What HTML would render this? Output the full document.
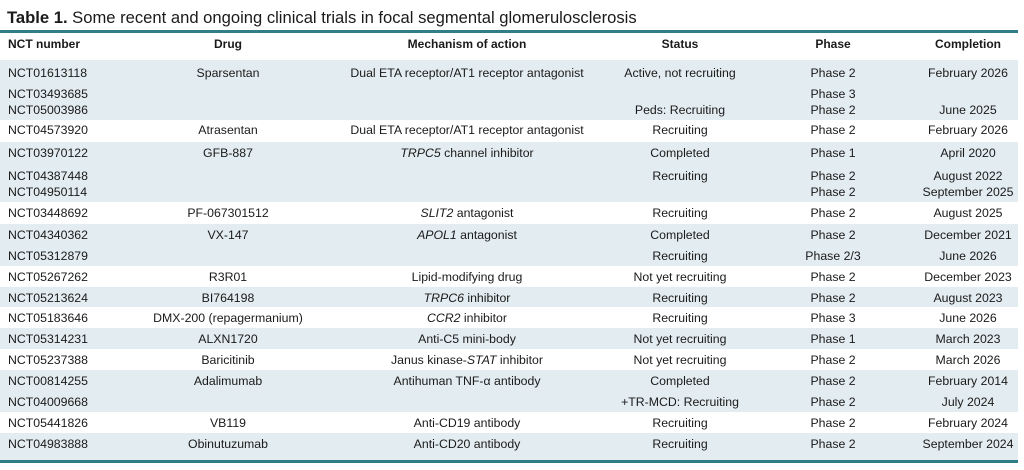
<!DOCTYPE html>
<html><head><meta charset="utf-8"><style>
body{margin:0;width:1024px;height:470px;background:#fff;position:relative;overflow:hidden;font-family:"Liberation Sans",sans-serif;color:#1a1a1a}
.b{position:absolute;left:0;width:1018px;background:#e3ecf0}
.ln{position:absolute;left:0;width:1018px;height:3px;background:#2f7d88}
.t{position:absolute;font-size:12.3px;line-height:16px;height:16px;white-space:nowrap}
.n{left:8px}
.c1{left:128px;width:200px;text-align:center}
.c2{left:317px;width:300px;text-align:center}
.c3{left:580px;width:200px;text-align:center}
.c4{left:783px;width:100px;text-align:center}
.c5{left:898px;width:140px;text-align:center}
.h{font-weight:bold;font-size:12px}
</style></head><body>
<div style="position:absolute;left:7px;top:8px;font-size:16.6px;line-height:19px;white-space:nowrap"><b>Table 1.</b> Some recent and ongoing clinical trials in focal segmental glomerulosclerosis</div>
<div class="ln" style="top:30px"></div>
<div class="b" style="top:60px;height:60px"></div>
<div class="b" style="top:142px;height:60px"></div>
<div class="b" style="top:224px;height:42px"></div>
<div class="b" style="top:287px;height:20px"></div>
<div class="b" style="top:328px;height:21px"></div>
<div class="b" style="top:370px;height:42px"></div>
<div class="b" style="top:433px;height:27px"></div>
<div class="ln" style="top:460px"></div>

<div class="t h n" style="top:36px">NCT number</div><div class="t h c1" style="top:36px">Drug</div><div class="t h c2" style="top:36px">Mechanism of action</div><div class="t h c3" style="top:36px">Status</div><div class="t h c4" style="top:36px">Phase</div><div class="t h c5" style="top:36px">Completion</div>

<div class="t n" style="top:65px">NCT01613118</div><div class="t c1" style="top:65px">Sparsentan</div><div class="t c2" style="top:65px">Dual ETA receptor/AT1 receptor antagonist</div><div class="t c3" style="top:65px">Active, not recruiting</div><div class="t c4" style="top:65px">Phase 2</div><div class="t c5" style="top:65px">February 2026</div>
<div class="t n" style="top:86px">NCT03493685</div><div class="t c4" style="top:86px">Phase 3</div>
<div class="t n" style="top:102px">NCT05003986</div><div class="t c3" style="top:102px">Peds: Recruiting</div><div class="t c4" style="top:102px">Phase 2</div><div class="t c5" style="top:102px">June 2025</div>

<div class="t n" style="top:122px">NCT04573920</div><div class="t c1" style="top:122px">Atrasentan</div><div class="t c2" style="top:122px">Dual ETA receptor/AT1 receptor antagonist</div><div class="t c3" style="top:122px">Recruiting</div><div class="t c4" style="top:122px">Phase 2</div><div class="t c5" style="top:122px">February 2026</div>

<div class="t n" style="top:145px">NCT03970122</div><div class="t c1" style="top:145px">GFB-887</div><div class="t c2" style="top:145px"><i>TRPC5</i> channel inhibitor</div><div class="t c3" style="top:145px">Completed</div><div class="t c4" style="top:145px">Phase 1</div><div class="t c5" style="top:145px">April 2020</div>
<div class="t n" style="top:168px">NCT04387448</div><div class="t c3" style="top:168px">Recruiting</div><div class="t c4" style="top:168px">Phase 2</div><div class="t c5" style="top:168px">August 2022</div>
<div class="t n" style="top:184px">NCT04950114</div><div class="t c4" style="top:184px">Phase 2</div><div class="t c5" style="top:184px">September 2025</div>

<div class="t n" style="top:205px">NCT03448692</div><div class="t c1" style="top:205px">PF-067301512</div><div class="t c2" style="top:205px"><i>SLIT2</i> antagonist</div><div class="t c3" style="top:205px">Recruiting</div><div class="t c4" style="top:205px">Phase 2</div><div class="t c5" style="top:205px">August 2025</div>

<div class="t n" style="top:227px">NCT04340362</div><div class="t c1" style="top:227px">VX-147</div><div class="t c2" style="top:227px"><i>APOL1</i> antagonist</div><div class="t c3" style="top:227px">Completed</div><div class="t c4" style="top:227px">Phase 2</div><div class="t c5" style="top:227px">December 2021</div>
<div class="t n" style="top:248px">NCT05312879</div><div class="t c3" style="top:248px">Recruiting</div><div class="t c4" style="top:248px">Phase 2/3</div><div class="t c5" style="top:248px">June 2026</div>

<div class="t n" style="top:269px">NCT05267262</div><div class="t c1" style="top:269px">R3R01</div><div class="t c2" style="top:269px">Lipid-modifying drug</div><div class="t c3" style="top:269px">Not yet recruiting</div><div class="t c4" style="top:269px">Phase 2</div><div class="t c5" style="top:269px">December 2023</div>

<div class="t n" style="top:290px">NCT05213624</div><div class="t c1" style="top:290px">BI764198</div><div class="t c2" style="top:290px"><i>TRPC6</i> inhibitor</div><div class="t c3" style="top:290px">Recruiting</div><div class="t c4" style="top:290px">Phase 2</div><div class="t c5" style="top:290px">August 2023</div>

<div class="t n" style="top:310px">NCT05183646</div><div class="t c1" style="top:310px">DMX-200 (repagermanium)</div><div class="t c2" style="top:310px"><i>CCR2</i> inhibitor</div><div class="t c3" style="top:310px">Recruiting</div><div class="t c4" style="top:310px">Phase 3</div><div class="t c5" style="top:310px">June 2026</div>

<div class="t n" style="top:331px">NCT05314231</div><div class="t c1" style="top:331px">ALXN1720</div><div class="t c2" style="top:331px">Anti-C5 mini-body</div><div class="t c3" style="top:331px">Not yet recruiting</div><div class="t c4" style="top:331px">Phase 1</div><div class="t c5" style="top:331px">March 2023</div>

<div class="t n" style="top:352px">NCT05237388</div><div class="t c1" style="top:352px">Baricitinib</div><div class="t c2" style="top:352px">Janus kinase-<i>STAT</i> inhibitor</div><div class="t c3" style="top:352px">Not yet recruiting</div><div class="t c4" style="top:352px">Phase 2</div><div class="t c5" style="top:352px">March 2026</div>

<div class="t n" style="top:373px">NCT00814255</div><div class="t c1" style="top:373px">Adalimumab</div><div class="t c2" style="top:373px">Antihuman TNF-α antibody</div><div class="t c3" style="top:373px">Completed</div><div class="t c4" style="top:373px">Phase 2</div><div class="t c5" style="top:373px">February 2014</div>
<div class="t n" style="top:394px">NCT04009668</div><div class="t c3" style="top:394px">+TR-MCD: Recruiting</div><div class="t c4" style="top:394px">Phase 2</div><div class="t c5" style="top:394px">July 2024</div>

<div class="t n" style="top:415px">NCT05441826</div><div class="t c1" style="top:415px">VB119</div><div class="t c2" style="top:415px">Anti-CD19 antibody</div><div class="t c3" style="top:415px">Recruiting</div><div class="t c4" style="top:415px">Phase 2</div><div class="t c5" style="top:415px">February 2024</div>

<div class="t n" style="top:436px">NCT04983888</div><div class="t c1" style="top:436px">Obinutuzumab</div><div class="t c2" style="top:436px">Anti-CD20 antibody</div><div class="t c3" style="top:436px">Recruiting</div><div class="t c4" style="top:436px">Phase 2</div><div class="t c5" style="top:436px">September 2024</div>
</body></html>
